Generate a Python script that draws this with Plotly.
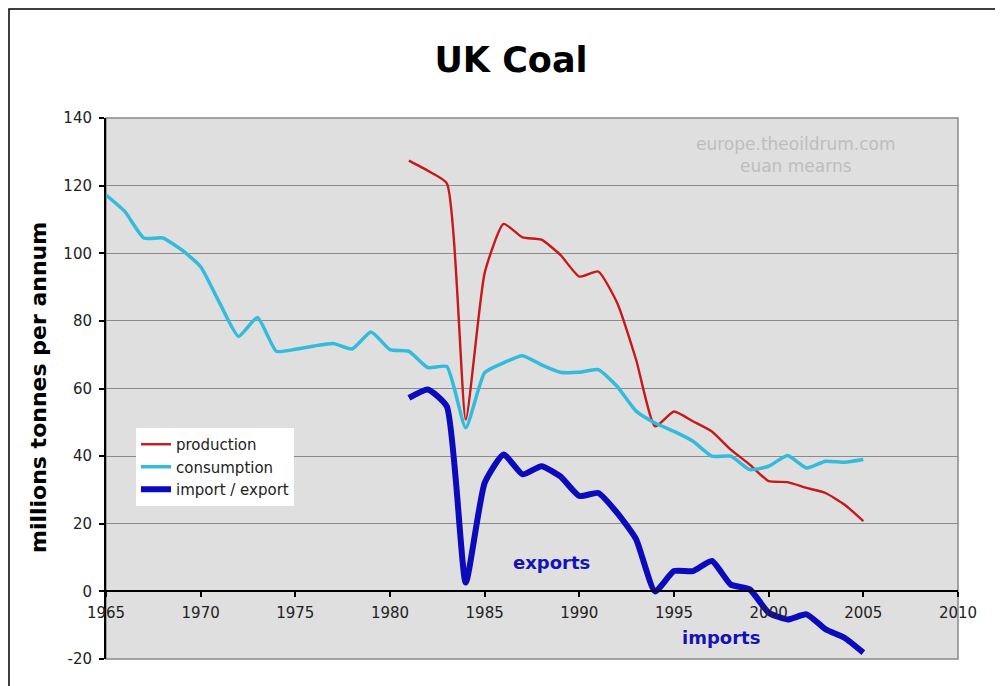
import plotly.graph_objects as go

years_cons = list(range(1965, 2006))
consumption = [117.2, 112.3, 104.5, 104.5, 101, 96, 85.3, 75.4, 81, 71, 71.6, 72.6, 73.3, 71.7,
               76.7, 71.5, 71, 66.2, 66.5, 48.4, 64.7, 67.6, 69.7, 67, 64.8, 64.8, 65.6, 60.6,
               53.3, 49.8, 47.3, 44.4, 40, 40, 36, 37, 40.2, 36.5, 38.5, 38.2, 39]

years_prod = list(range(1981, 2006))
production = [127.4, 124.4, 120.7, 50.8, 94.2, 108.7, 104.7, 104, 99.5, 93.1, 94.6, 85.3, 68.5,
              48.8, 53.2, 50.3, 47.3, 41.9, 37.5, 32.6, 32.3, 30.6, 29.1, 25.7, 20.8]
import_export = [57.2, 59.7, 54.7, 2.6, 32.1, 40.5, 34.6, 37, 34, 28.2, 29.1, 23.2, 15.4,
                 0, 6, 6, 9, 2, 0.6, -6.3, -8.3, -6.8, -11.2, -13.7, -18.1]

x_ticks = [1965, 1970, 1975, 1980, 1985, 1990, 1995, 2000, 2005, 2010]
y_ticks = [-20, 0, 20, 40, 60, 80, 100, 120, 140]
y_ticktext = ["-20", "0", "20", "40", "60", "80", "100", "120", "140"]

FONT = "DejaVu Sans"

fig = go.Figure()
fig.add_trace(go.Scatter(x=years_prod, y=production, name="production", mode="lines",
                         line=dict(color="#c81818", width=2.4, shape="spline", smoothing=0.5)))
fig.add_trace(go.Scatter(x=years_cons, y=consumption, name="consumption", mode="lines",
                         line=dict(color="#33bbdd", width=3.5, shape="spline", smoothing=0.5)))
fig.add_trace(go.Scatter(x=years_prod, y=import_export, name="import / export", mode="lines",
                         line=dict(color="#0b0bbb", width=6, shape="spline", smoothing=0.5)))

OFF = 8  # page body margin
W, H = 995, 678
# plot area in page pixels
PL, PR, PT, PB = 106, 958, 118, 659
L, T = PL - OFF, PT - OFF
R, B = W - (PR - OFF), H - (PB - OFF)
pw, ph = PR - PL, PB - PT


def px(xp):
    return (xp - PL) / pw


def py(yp):
    return (PB - yp) / ph


fig.update_layout(
    width=W, height=H,
    margin=dict(l=L, r=R, t=T, b=B),
    paper_bgcolor="white",
    plot_bgcolor="#dfdfdf",
    font=dict(family=FONT, color="#222222"),
    title=dict(text="<b>UK Coal</b>", x=(511 - OFF) / W, xanchor="center",
               y=1 - (60 - OFF) / H, yanchor="middle",
               font=dict(family=FONT, size=35, color="black")),
    xaxis=dict(range=[1965, 2010], tickvals=x_ticks, showgrid=False, zeroline=False,
               showline=True, linecolor="black", linewidth=2, anchor="free", position=20 / 160,
               ticks="outside", ticklen=5, tickwidth=1.5, tickcolor="black", ticklabelstandoff=3,
               tickfont=dict(family=FONT, size=15, color="#222222")),
    yaxis=dict(range=[-20, 140], tickvals=y_ticks, ticktext=y_ticktext, showgrid=True,
               gridcolor="#8a8a8a", gridwidth=1, zeroline=False, showline=True,
               linecolor="black", linewidth=2,
               ticks="outside", ticklen=5, tickwidth=1.5, tickcolor="black", ticklabelstandoff=4,
               tickfont=dict(family=FONT, size=15, color="#222222")),
    legend=dict(x=px(136), y=py(428), xanchor="left", yanchor="top", bgcolor="white",
                font=dict(family=FONT, size=15, color="#222222"), tracegroupgap=0,
                itemwidth=30),
    showlegend=True,
)

fig.add_annotation(text="<b>millions tonnes per annum</b>", textangle=-90, xref="paper", yref="paper",
                   x=px(38), y=py(388), xanchor="center", yanchor="middle", showarrow=False,
                   font=dict(family=FONT, size=22, color="black"))
fig.add_annotation(text="europe.theoildrum.com<br>euan mearns", xref="paper", yref="paper",
                   x=px(795), y=py(155), xanchor="center", yanchor="middle", showarrow=False,
                   font=dict(family=FONT, size=17, color="#bdbdbd"))
fig.add_annotation(text="<b>exports</b>", x=1988.55, y=8.6, xanchor="center", yanchor="middle",
                   showarrow=False, font=dict(family=FONT, size=18, color="#1414b4"))
fig.add_annotation(text="<b>imports</b>", x=1997.5, y=-13.6, xanchor="center", yanchor="middle",
                   showarrow=False, font=dict(family=FONT, size=18, color="#1414b4"))

# plot-area border (right/bottom gray)
fig.add_shape(type="rect", xref="paper", yref="paper", x0=0, x1=1, y0=0, y1=1,
              line=dict(color="#8a8a8a", width=1.5), layer="below")
# outer frame
fig.add_shape(type="rect", xref="paper", yref="paper", x0=px(OFF + 1), x1=px(1000),
              y0=py(720), y1=py(OFF + 1), line=dict(color="black", width=1.5))

fig.write_html("out.html")
